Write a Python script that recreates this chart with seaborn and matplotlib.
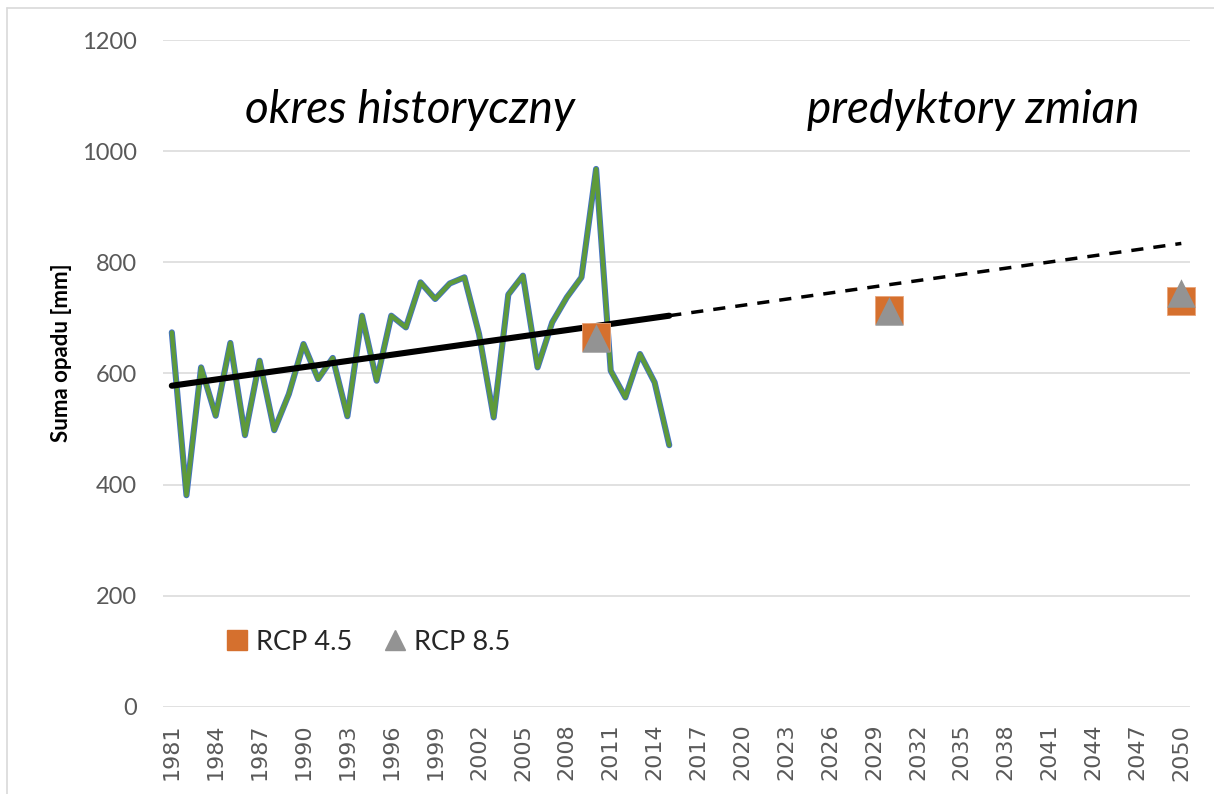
import matplotlib

matplotlib.use("Agg")

import matplotlib.pyplot as plt
import numpy as np
import pandas as pd
import seaborn as sns
from matplotlib.lines import Line2D

# --------------------------------------------------------------------------- #
# data
# --------------------------------------------------------------------------- #
years = list(range(1981, 2016))
precip = [674, 381, 611, 524, 655, 489, 623, 498, 563, 653,
          590, 628, 523, 704, 587, 704, 683, 764, 734, 762,
          773, 671, 521, 742, 776, 611, 692, 737, 773, 968,
          605, 557, 635, 584, 471]

trend_years = [1981, 2015]
trend_vals = [578, 704]
forecast_years = [2015, 2050]
forecast_vals = [704, 834]

scen_years = [2010, 2030, 2050]
rcp45 = [666, 714, 730]
rcp85 = [664, 713, 745]

xticks = list(range(1981, 2051, 3))
yticks = [0, 200, 400, 600, 800, 1000, 1200]

hist = pd.DataFrame({"rok": years, "opad": precip})
scen = pd.DataFrame({"rok": scen_years, "RCP 4.5": rcp45, "RCP 8.5": rcp85})

# --------------------------------------------------------------------------- #
# plot
# --------------------------------------------------------------------------- #
sns.set_theme(style="white")
plt.rcParams["font.family"] = ["Lato", "DejaVu Sans"]

fig = plt.figure(figsize=(12.14, 7.94), dpi=100)
ax = fig.add_axes([0.1343, 0.1096, 0.846, 0.84])

GREEN, BLUE = "#5e9a3a", "#4472c4"
ORANGE, GREY = "#d5702e", "#939393"

# historical series: blue outline under green line
sns.lineplot(data=hist, x="rok", y="opad", ax=ax, color=BLUE, lw=4.4,
             zorder=3, legend=False)
sns.lineplot(data=hist, x="rok", y="opad", ax=ax, color=GREEN, lw=3.1,
             zorder=4, legend=False)

# linear trend + extrapolation
ax.plot(trend_years, trend_vals, color="black", lw=4.4,
        solid_capstyle="round", zorder=5)
ax.plot(forecast_years, forecast_vals, color="black", lw=2.5,
        dashes=(3.5, 2.9), zorder=5)

# scenarios
sns.scatterplot(data=scen, x="rok", y="RCP 4.5", ax=ax, marker="s", s=400,
                color=ORANGE, edgecolor="#e9a57a", linewidth=0.6, zorder=6,
                clip_on=False)
sns.scatterplot(data=scen, x="rok", y="RCP 8.5", ax=ax, marker="^", s=420,
                color=GREY, linewidth=0, zorder=7, clip_on=False)

ax.set_xlim(1980.4, 2050.6)
ax.set_ylim(0, 1200)
ax.set_xticks(xticks)
ax.set_xticklabels([str(x) for x in xticks], rotation=90,
                   family="DejaVu Sans", fontsize=16, color="#595959")
ax.set_yticks(yticks)
ax.set_yticklabels([str(y) for y in yticks], fontsize=17, color="#595959")
ax.tick_params(axis="x", length=0, pad=12)
ax.tick_params(axis="y", length=0, pad=19)
ax.yaxis.grid(True, color="#d9d9d9", lw=1.1)
ax.set_axisbelow(True)
sns.despine(ax=ax, left=True, bottom=True)
ax.set_xlabel("")
ax.set_ylabel("Suma opadu [mm]", fontsize=16, fontweight="bold",
              color="black")
ax.yaxis.set_label_coords(-0.089, 0.531)

# period annotations
ax.text(1997.3, 1051, "okres historyczny", ha="center", va="baseline",
        fontsize=33, style="italic", color="black")
ax.text(2035.8, 1051, "predyktory zmian", ha="center", va="baseline",
        fontsize=33, style="italic", color="black")

handles = [
    Line2D([], [], ls="", marker="s", ms=14, color=ORANGE, label="RCP 4.5"),
    Line2D([], [], ls="", marker="^", ms=15, color=GREY, label="RCP 8.5"),
]
ax.legend(handles=handles, loc="center left", bbox_to_anchor=(0.06, 0.097),
          ncol=2, frameon=False, fontsize=19.5, handlelength=0.9,
          handletextpad=0.25, columnspacing=1.15, borderpad=0, borderaxespad=0)

# chart-area border (light grey, top and left visible)
fig.add_artist(Line2D([7 / 1214, 7 / 1214], [0, 1 - 8 / 794],
                      transform=fig.transFigure, color="#d9d9d9", lw=1.2))
fig.add_artist(Line2D([7 / 1214, 1], [1 - 8 / 794, 1 - 8 / 794],
                      transform=fig.transFigure, color="#d9d9d9", lw=1.2))

fig.savefig("out.png", dpi=100)
plt.close(fig)
